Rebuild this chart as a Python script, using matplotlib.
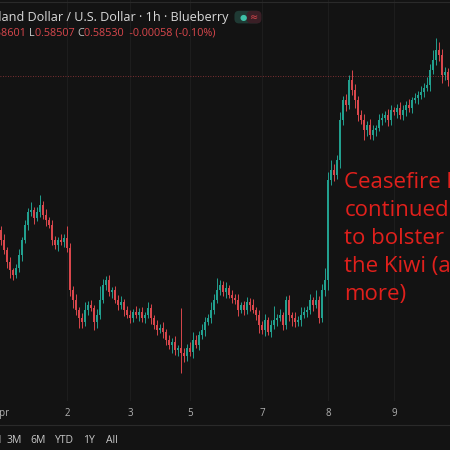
import matplotlib.pyplot as plt
from matplotlib.patches import FancyBboxPatch

# hourly closes, price level (higher = higher price)
closes = [160, 150, 138, 130, 125, 132, 145, 160, 175, 188, 190,
          182, 188, 195, 185, 180, 175, 160,
          155, 160, 158, 162, 152,
          110, 100, 90, 82, 78,
          90, 95, 92, 78, 85, 100,
          115, 120, 108, 110, 100,
          95, 98, 90, 85, 82, 88, 85,
          88, 82, 85, 92, 82, 75, 70,
          72, 68, 60, 55, 58, 50, 52, 47,
          44, 52, 48, 60, 55, 65,
          70, 78, 82, 90, 100,
          110, 115, 108, 112, 105,
          102, 100, 90, 95, 90, 98,
          95, 90, 85, 75, 70, 80,
          68, 75, 80, 82, 85, 75,
          100, 85, 82, 78, 80, 85,
          88, 90, 100, 95, 100, 82,
          110, 120, 220, 230,
          225, 240, 280, 300, 295, 320,
          310, 300, 285, 280, 270,
          275, 265, 270, 272, 280, 282,
          285, 280, 290, 288, 292, 285,
          290, 295, 292, 300, 302, 305,
          308, 312, 315, 330, 340, 350,
          345, 325, 328, 320]
# wick sizes above / below the body
wick_up = [4, 6, 3, 5, 2, 4, 6, 3, 5, 4, 8,
           3, 5, 10, 4, 6, 3, 5,
           4, 3, 6, 4, 12,
           5, 4, 6, 3, 5,
           8, 4, 5, 3, 6, 14,
           6, 4, 5, 3, 4,
           5, 6, 3, 4, 5, 3, 6,
           4, 5, 3, 6, 4, 3, 5,
           4, 6, 3, 5, 4, 6, 3, 40,
           5, 4, 6, 8, 5, 4,
           6, 5, 4, 8, 6,
           12, 5, 4, 6, 3,
           5, 4, 6, 3, 4, 5,
           4, 6, 3, 5, 4, 6,
           3, 5, 14, 4, 6, 3,
           4, 5, 3, 6, 4, 8,
           5, 4, 6, 3, 10, 4,
           6, 12, 8, 10,
           6, 5, 8, 4, 6, 5,
           10, 6, 4, 5, 6,
           4, 6, 5, 3, 6, 5,
           4, 6, 5, 3, 4, 6,
           5, 4, 6, 3, 5, 4,
           6, 5, 8, 6, 10, 12,
           8, 6, 5, 4]
wick_dn = [5, 4, 6, 8, 5, 3, 4, 6, 3, 5, 4,
           6, 3, 5, 4, 6, 3, 5,
           4, 6, 3, 5, 4,
           6, 8, 5, 10, 6,
           4, 5, 3, 8, 6, 4,
           3, 5, 4, 6, 3,
           5, 4, 6, 3, 5, 4, 3,
           6, 4, 5, 3, 6, 4, 5,
           3, 6, 5, 4, 8, 5, 6, 20,
           6, 5, 4, 6, 3, 5,
           4, 6, 3, 5, 4,
           3, 5, 4, 6, 3,
           5, 4, 6, 3, 5, 4,
           6, 3, 5, 8, 4, 6,
           3, 5, 4, 6, 3, 5,
           4, 6, 8, 5, 4, 6,
           3, 5, 4, 6, 3, 5,
           4, 6, 10, 5,
           6, 4, 8, 5, 6, 4,
           5, 8, 6, 4, 10,
           6, 4, 5, 6, 3, 5,
           4, 6, 5, 3, 6, 4,
           5, 6, 4, 5, 3, 6,
           4, 5, 3, 6, 4, 5,
           6, 8, 5, 6]
open0 = 170
last_close = 324
date_pos = [0, 22, 43, 63, 87, 109, 131]
date_labels = ['Apr', '2', '3', '5', '7', '8', '9']
ranges = ['1D', '5D', '1M', '3M', '6M', 'YTD', '1Y', 'All']

plt.rcParams['font.family'] = ['Open Sans', 'DejaVu Sans']

bg = '#131313'
up_col = '#22a08f'
dn_col = '#d9474c'

fig = plt.figure(figsize=(4.5, 4.5), dpi=100, facecolor=bg)
ax = fig.add_axes([0, 0.11, 1, 0.89], facecolor=bg)

prev = open0
for i, c in enumerate(closes):
    o = prev
    col = up_col if c >= o else dn_col
    hi = max(o, c) + wick_up[i]
    lo = min(o, c) - wick_dn[i]
    ax.vlines(i, lo, hi, color=col, lw=0.7)
    ax.bar(i, max(abs(c - o), 1), bottom=min(o, c), width=0.65, color=col, lw=0)
    prev = c

ax.axhline(last_close, color=dn_col, lw=0.6, ls=(0, (1, 2)), alpha=0.7)
for p in date_pos[1:]:
    ax.axvline(p, color='#1f1f1f', lw=0.6, zorder=0)
ax.set_xlim(-0.3, 149.7)
ax.set_ylim(0, 400)
ax.set_xticks([])
ax.set_yticks([])
for s in ax.spines.values():
    s.set_visible(False)

for p, lab in zip(date_pos, date_labels):
    x = ax.transData.transform((p, 0))[0] / 450
    fig.text(x, 0.082, lab, color='#b0b0b0', fontsize=7, ha='center', va='center')

fig.add_artist(plt.Line2D([0, 1], [0.055, 0.055], color='#2a2a2a', lw=0.8))
fig.add_artist(plt.Line2D([0, 1], [0.995, 0.995], color='#2a2a2a', lw=0.8))

xs = [-0.12, -0.07, -0.03, 0.015, 0.067, 0.122, 0.185, 0.235]
for x, r in zip(xs, ranges):
    fig.text(x, 0.022, r, color='#c8c8c8', fontsize=7.5, va='center')

fig.text(0.507, 0.962, 'New Zealand Dollar / U.S. Dollar · 1h · Blueberry',
         color='#d8d8d8', fontsize=9.1, ha='right', va='center')
fig.add_artist(FancyBboxPatch((0.525, 0.952), 0.05, 0.02, boxstyle='round,pad=0.004,rounding_size=0.01',
                              transform=fig.transFigure, color='#1f3a34', lw=0))
fig.add_artist(FancyBboxPatch((0.552, 0.952), 0.025, 0.02, boxstyle='round,pad=0.004,rounding_size=0.01',
                              transform=fig.transFigure, color='#3a1f26', lw=0))
fig.text(0.541, 0.962, '●', color='#3fc1a8', fontsize=6, ha='center', va='center',
         family='DejaVu Sans')
fig.text(0.565, 0.962, '≈', color='#d9474c', fontsize=7, ha='center', va='center',
         family='DejaVu Sans')

parts = [('0.58601 ', dn_col), ('L', '#c8c8c8'), ('0.58507 ', dn_col), ('C', '#c8c8c8'),
         ('0.58530  -0.00058 (-0.10%)', dn_col)]
x = -0.03
for txt, col in parts:
    t = fig.text(x, 0.926, txt, color=col, fontsize=7.8, va='center')
    fig.canvas.draw()
    bb = t.get_window_extent()
    x = bb.x1 / 450

fig.text(0.765, 0.47, 'Ceasefire hopes\ncontinued\nto bolster\nthe Kiwi (and\nmore)',
         color='#e0201c', fontsize=16, ha='left', va='center', linespacing=1.45)

fig.savefig('out.png', dpi=100, facecolor=bg)
